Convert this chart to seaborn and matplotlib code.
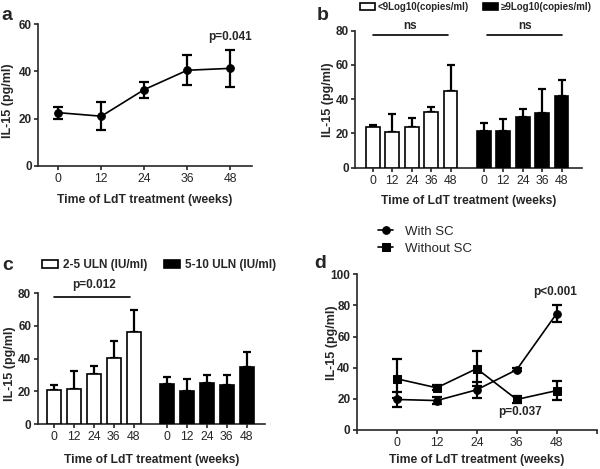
import seaborn as sns
import matplotlib
matplotlib.use('Agg')
import matplotlib.pyplot as plt
import pandas as pd
import numpy as np

# IL-15 during LdT treatment
weeks = [0, 12, 24, 36, 48]
week_labels = ['0', '12', '24', '36', '48']

a_mean = [22.5, 21.0, 32.3, 40.5, 41.3]
a_err = [2.6, 6.0, 3.4, 6.4, 7.9]

b_low_mean = [24.0, 20.7, 24.0, 32.5, 45.0]
b_low_err = [1.0, 10.8, 5.2, 3.0, 15.2]
b_high_mean = [21.7, 21.2, 29.8, 32.2, 41.7]
b_high_err = [4.3, 7.2, 4.5, 13.5, 9.3]

c_low_mean = [20.9, 21.3, 30.7, 40.4, 56.6]
c_low_err = [2.9, 11.0, 4.9, 10.2, 12.9]
c_high_mean = [24.6, 20.3, 25.2, 24.0, 34.8]
c_high_err = [4.3, 7.1, 4.5, 6.1, 9.4]

d_with = [19.6, 18.9, 25.8, 38.7, 74.8]
d_with_err = [4.8, 2.3, 5.0, 0.8, 5.5]
d_without = [32.9, 27.1, 39.4, 19.6, 25.3]
d_without_err = [12.5, 1.5, 11.4, 2.0, 6.0]

b_groups = ['<9Log10(copies/ml)', '≥9Log10(copies/ml)']
c_groups = ['2-5 ULN (IU/ml)', '5-10 ULN (IU/ml)']
d_groups = ['With SC', 'Without SC']

sns.set_style('ticks')
plt.rcParams['font.family'] = ['Liberation Sans', 'DejaVu Sans']
plt.rcParams['axes.linewidth'] = 1.2
plt.rcParams['xtick.major.width'] = 1.2
plt.rcParams['ytick.major.width'] = 1.2
plt.rcParams['xtick.major.size'] = 3
plt.rcParams['ytick.major.size'] = 3
plt.rcParams['xtick.labelsize'] = 8.8
plt.rcParams['ytick.labelsize'] = 8.5

fig = plt.figure(figsize=(6, 4.69), dpi=100)
ax_a = fig.add_axes([0.0633, 0.6467, 0.3567, 0.3015])
ax_b = fig.add_axes([0.5917, 0.6424, 0.3778, 0.2921])
ax_c = fig.add_axes([0.0625, 0.0959, 0.3792, 0.2787])
ax_d = fig.add_axes([0.5945, 0.0832, 0.4000, 0.3320])

label_kw = dict(fontsize=8.7, fontweight='bold')
xlabel = 'Time of LdT treatment (weeks)'
ylabel = 'IL-15 (pg/ml)'


def style_axis(ax, yticks, xl_y, yl_x, yl_y):
    sns.despine(ax=ax)
    ax.set_yticks(yticks, [str(v) for v in yticks], fontweight='bold')
    ax.set_xlabel(xlabel, **label_kw)
    ax.set_ylabel(ylabel, fontsize=9, fontweight='bold')
    ax.xaxis.set_label_coords(0.5, xl_y)
    ax.xaxis.label.set_va('center')
    ax.yaxis.set_label_coords(yl_x, yl_y)
    ax.yaxis.label.set_va('center')
    ax.yaxis.label.set_ha('center')
    ax.tick_params(axis='x', pad=2)
    ax.tick_params(axis='y', pad=1.5)


# ---- panel a
sns.lineplot(x=weeks, y=a_mean, marker='o', color='black', markersize=5.5,
             linewidth=1.2, markeredgecolor='black', ax=ax_a)
ax_a.errorbar(weeks, a_mean, yerr=a_err, fmt='none', ecolor='black',
              elinewidth=1.6, capsize=3.6, capthick=1.6)
ax_a.set_xlim(-5.7, 54.1)
ax_a.set_ylim(0, 60)
ax_a.set_xticks(weeks, week_labels)
ax_a.text(48, 54.5, 'p=0.041', ha='center', va='center', fontsize=8.5, fontweight='bold')
style_axis(ax_a, [0, 20, 40, 60], -0.243, -0.142, 0.46)


# ---- grouped bar panels
def bar_panel(ax, low, low_err, high, high_err, groups, gap):
    pos_low = [float(i) for i in range(5)]
    pos_high = [4 + gap + i for i in range(5)]
    df = pd.DataFrame({'pos': pos_low + pos_high,
                       'val': low + high,
                       'grp': [groups[0]] * 5 + [groups[1]] * 5})
    sns.barplot(data=df, x='pos', y='val', hue='grp', native_scale=True,
                dodge=False, width=0.7, errorbar=None,
                palette={groups[0]: 'white', groups[1]: 'black'},
                edgecolor='black', linewidth=1.2, ax=ax, zorder=3)
    ax.errorbar(pos_low + pos_high, low + high,
                yerr=[np.zeros(10), np.array(low_err + high_err)],
                fmt='none', ecolor='black', elinewidth=1.6, capsize=2.9,
                capthick=1.6, zorder=2)
    ax.set_xticks(pos_low + pos_high, week_labels * 2)


bar_panel(ax_b, b_low_mean, b_low_err, b_high_mean, b_high_err, b_groups, 1.7)
ax_b.set_xlim(-0.91, 10.73)
ax_b.set_ylim(0, 80)
ax_b.plot([0, 3.85], [77.5, 77.5], color='black', lw=1.2, clip_on=False)
ax_b.plot([5.85, 9.7], [77.5, 77.5], color='black', lw=1.2, clip_on=False)
ax_b.text(1.9, 82.5, 'ns', ha='center', va='center', fontsize=8.5, fontweight='bold')
ax_b.text(7.8, 82.5, 'ns', ha='center', va='center', fontsize=8.5, fontweight='bold')
h, l = ax_b.get_legend_handles_labels()
ax_b.legend(h, l, loc='center left', bbox_to_anchor=(0.6, 0.985),
            bbox_transform=fig.transFigure, ncol=2, frameon=False,
            prop=dict(size=7, weight='bold'), handlelength=1.54,
            handleheight=0.7, handletextpad=0.3, columnspacing=1.4,
            borderpad=0, borderaxespad=0)
style_axis(ax_b, [0, 20, 40, 60, 80], -0.243, -0.119, 0.5)

bar_panel(ax_c, c_low_mean, c_low_err, c_high_mean, c_high_err, c_groups, 1.69)
ax_c.set_xlim(-0.84, 10.62)
ax_c.set_ylim(0, 80)
ax_c.plot([0, 3.84], [77.5, 77.5], color='black', lw=1.2, clip_on=False)
ax_c.text(2, 85, 'p=0.012', ha='center', va='center', fontsize=8.5, fontweight='bold')
h, l = ax_c.get_legend_handles_labels()
ax_c.legend(h, l, loc='center left', bbox_to_anchor=(0.07, 0.435),
            bbox_transform=fig.transFigure, ncol=2, frameon=False,
            prop=dict(size=8.5, weight='bold'), handlelength=1.36,
            handleheight=0.65, handletextpad=0.42, columnspacing=1.44,
            borderpad=0, borderaxespad=0)
style_axis(ax_c, [0, 20, 40, 60, 80], -0.275, -0.121, 0.46)

# ---- panel d
sns.lineplot(x=weeks, y=d_with, marker='o', color='black', markersize=5.5,
             linewidth=1.2, markeredgecolor='black', label=d_groups[0], ax=ax_d)
sns.lineplot(x=weeks, y=d_without, marker='s', color='black', markersize=5.5,
             linewidth=1.2, markeredgecolor='black', label=d_groups[1], ax=ax_d)
ax_d.errorbar(weeks, d_with, yerr=d_with_err, fmt='none', ecolor='black',
              elinewidth=1.6, capsize=3.6, capthick=1.6)
ax_d.errorbar(weeks, d_without, yerr=d_without_err, fmt='none', ecolor='black',
              elinewidth=1.6, capsize=3.6, capthick=1.6)
ax_d.set_xlim(-12, 60)
ax_d.set_ylim(0, 100)
ax_d.set_xticks([-12] + weeks + [60], [''] + week_labels + [''])
ax_d.text(47.5, 88.8, 'p<0.001', ha='center', va='center', fontsize=8.5, fontweight='bold')
ax_d.text(37, 11.4, 'p=0.037', ha='center', va='center', fontsize=8.5, fontweight='bold')
h, l = ax_d.get_legend_handles_labels()
ax_d.legend(h, l, loc='center left', bbox_to_anchor=(0.63, 0.488),
            bbox_transform=fig.transFigure, frameon=False,
            prop=dict(size=9.5), handlelength=1.14, handletextpad=0.9,
            labelspacing=0.36, borderpad=0, borderaxespad=0)
style_axis(ax_d, [0, 20, 40, 60, 80, 100], -0.193, -0.104, 0.56)

# panel letters
for letter, x, y in [('a', 7, 15), ('b', 323, 15), ('c', 8, 265), ('d', 320, 263)]:
    fig.text(x / 600, 1 - y / 469, letter, ha='center', va='center',
             fontsize=14, fontweight='bold')

fig.savefig('out.png', dpi=100)
